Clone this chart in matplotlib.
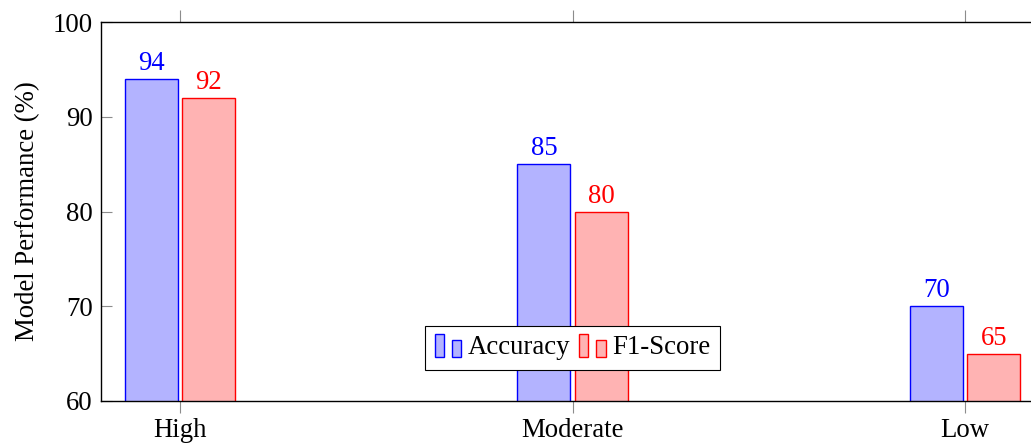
import matplotlib.pyplot as plt
from matplotlib.legend_handler import HandlerBase
from matplotlib.patches import Rectangle
import numpy as np

categories = ["High", "Moderate", "Low"]
accuracy = [94, 85, 70]
f1_score = [92, 80, 65]


class TwoBarHandler(HandlerBase):
    # pgfplots-style ybar legend image: two little bars
    def create_artists(self, legend, orig_handle, xdescent, ydescent,
                       width, height, fontsize, trans):
        fc = orig_handle.get_facecolor()
        ec = orig_handle.get_edgecolor()
        w = width * 0.34
        r1 = Rectangle((-xdescent, -ydescent - 0.15 * height), w, height * 1.25,
                       facecolor=fc, edgecolor=ec, lw=1.0, transform=trans)
        r2 = Rectangle((-xdescent + width * 0.66, -ydescent - 0.15 * height), w, height * 0.92,
                       facecolor=fc, edgecolor=ec, lw=1.0, transform=trans)
        return [r1, r2]


plt.rcParams["font.family"] = ["Liberation Serif", "DejaVu Serif"]
fs = 19.3

fig = plt.figure(figsize=[10.31, 4.45], dpi=100)
ax = fig.add_axes([101 / 1031, 44 / 445, (1044 - 101) / 1031, 379 / 445])

x = np.arange(len(categories))
bw = 0.135
off = 0.073
b1 = ax.bar(x - off, accuracy, bw, bottom=0, color=(0.7, 0.7, 1.0), edgecolor="blue",
            lw=1.0, label="Accuracy")
b2 = ax.bar(x + off, f1_score, bw, bottom=0, color=(1.0, 0.7, 0.7), edgecolor="red",
            lw=1.0, label="F1-Score")

for xi, v in zip(x - off, accuracy):
    ax.annotate(str(v), (xi, v), xytext=(0, 2), textcoords="offset points",
                ha="center", va="bottom", color="blue", fontsize=fs)
for xi, v in zip(x + off, f1_score):
    ax.annotate(str(v), (xi, v), xytext=(0, 2), textcoords="offset points",
                ha="center", va="bottom", color="red", fontsize=fs)

ax.set_xlim(-0.201, 2.201)
ax.set_ylim(60, 100)
ax.set_xticks(x)
ax.set_xticklabels(categories, fontsize=fs)
ax.set_yticks([60, 70, 80, 90, 100])
ax.tick_params(axis="y", labelsize=fs, direction="in", length=8, color="0.55", width=0.8,
               pad=6)
ax.tick_params(axis="x", direction="out", length=8.5, color="0.55", width=0.8,
               top=True, pad=4)
ax.set_ylabel("Model Performance (%)", fontsize=fs, labelpad=9)

for s in ax.spines.values():
    s.set_linewidth(1.0)

leg = ax.legend([b1[0], b2[0]], ["Accuracy", "F1-Score"], ncol=2, loc="center",
                bbox_to_anchor=(0.5, 0.14), handler_map={Rectangle: TwoBarHandler()},
                fontsize=fs, frameon=True, fancybox=False, framealpha=1,
                edgecolor="black", handlelength=1.0, handletextpad=0.25,
                columnspacing=0.3, borderpad=0.35, borderaxespad=0)
leg.get_frame().set_linewidth(0.8)

plt.savefig("out.png", dpi=100)
